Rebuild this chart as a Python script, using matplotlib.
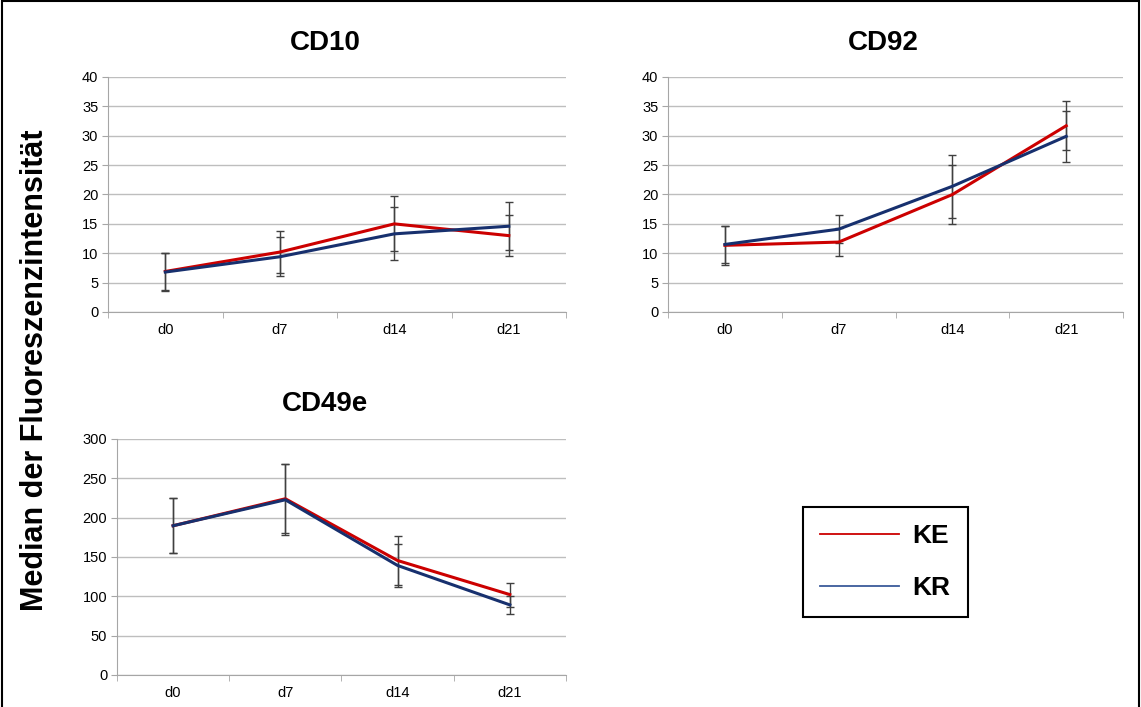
import numpy as np
import matplotlib.pyplot as plt
from matplotlib.lines import Line2D
from matplotlib.patches import Rectangle

plt.rcParams['font.family'] = ['Liberation Sans', 'DejaVu Sans']

days = ['d0', 'd7', 'd14', 'd21']

# CD10
cd10_ke = [6.9, 10.2, 15.0, 13.0]
cd10_ke_err = [3.2, 3.6, 4.7, 3.5]
cd10_kr = [6.8, 9.4, 13.3, 14.6]
cd10_kr_err = [3.2, 3.3, 4.5, 4.1]

# CD92
cd92_ke = [11.35, 11.9, 20.0, 31.7]
cd92_ke_err = [3.35, 2.4, 5.1, 4.2]
cd92_kr = [11.5, 14.1, 21.4, 29.9]
cd92_kr_err = [3.2, 2.4, 5.4, 4.35]

# CD49e
cd49e_ke = [189.7, 224.0, 145.5, 102.2]
cd49e_ke_err = [35.0, 44.0, 31.0, 15.3]
cd49e_kr = [189.7, 222.7, 139.2, 89.1]
cd49e_kr_err = [35.0, 45.0, 27.5, 11.5]

red = '#CC0000'
navy = '#17306E'
grey = '#A6A6A6'
ecol = '#404040'


def panel(ax, ke, ke_err, kr, kr_err, ymax, ystep):
    x = np.arange(len(days))
    ax.errorbar(x, ke, yerr=ke_err, fmt='none', ecolor=ecol, elinewidth=1,
                capsize=3, capthick=1, zorder=2)
    ax.errorbar(x, kr, yerr=kr_err, fmt='none', ecolor=ecol, elinewidth=1,
                capsize=3, capthick=1, zorder=2)
    ax.plot(x, ke, color=red, lw=2.2, zorder=3)
    ax.plot(x, kr, color=navy, lw=2.2, zorder=4)
    ax.set_xlim(-0.5, len(days) - 0.5)
    ax.set_ylim(0, ymax)
    ax.set_yticks(np.arange(0, ymax + 1, ystep))
    ax.set_xticks(x)
    ax.set_xticklabels(days)
    ax.set_xticks(np.arange(-0.5, len(days), 1.0), minor=True)
    ax.tick_params(axis='x', which='major', length=0, pad=8, labelsize=10.5)
    ax.tick_params(axis='x', which='minor', length=4, color=grey)
    ax.tick_params(axis='y', length=4, color=grey, labelsize=10.5, pad=3)
    ax.grid(axis='y', color='#BEBEBE', lw=1)
    ax.set_axisbelow(True)
    for s in ['top', 'right']:
        ax.spines[s].set_visible(False)
    for s in ['left', 'bottom']:
        ax.spines[s].set_color(grey)


fig = plt.figure(figsize=(11.41, 7.07), dpi=100)

ax1 = fig.add_axes([0.0947, 0.5587, 0.4014, 0.3324])
panel(ax1, cd10_ke, cd10_ke_err, cd10_kr, cd10_kr_err, 40, 5)

ax2 = fig.add_axes([0.5855, 0.5587, 0.3988, 0.3324])
panel(ax2, cd92_ke, cd92_ke_err, cd92_kr, cd92_kr_err, 40, 5)

ax3 = fig.add_axes([0.1025, 0.0453, 0.3935, 0.3338])
panel(ax3, cd49e_ke, cd49e_ke_err, cd49e_kr, cd49e_kr_err, 300, 50)

tkw = dict(ha='center', va='center', fontsize=20, fontweight='bold')
fig.text(0.2848, 0.939, 'CD10', **tkw)
fig.text(0.7739, 0.939, 'CD92', **tkw)
fig.text(0.2844, 0.4286, 'CD49e', **tkw)

fig.text(0.031, 0.477, 'Median der Fluoreszenzintensität', rotation=90,
         ha='center', va='center', fontsize=22, fontweight='bold')

handles = [Line2D([], [], color=red, lw=1.3), Line2D([], [], color='#3A5A9A', lw=1.3)]
leg = fig.legend(handles, ['KE', 'KR'], loc='center', bbox_to_anchor=(0.776, 0.205),
                 fancybox=False, edgecolor='black', framealpha=1,
                 prop={'size': 19, 'weight': 'bold'}, handlelength=3.0,
                 labelspacing=1.06, borderpad=0.65, handletextpad=0.5)
leg.get_frame().set_linewidth(1.5)

fig.patches.append(Rectangle((0.0015, -0.01), 0.997, 1.008, transform=fig.transFigure,
                             fill=False, edgecolor='black', lw=1.5))

fig.savefig('out.png', dpi=100)
